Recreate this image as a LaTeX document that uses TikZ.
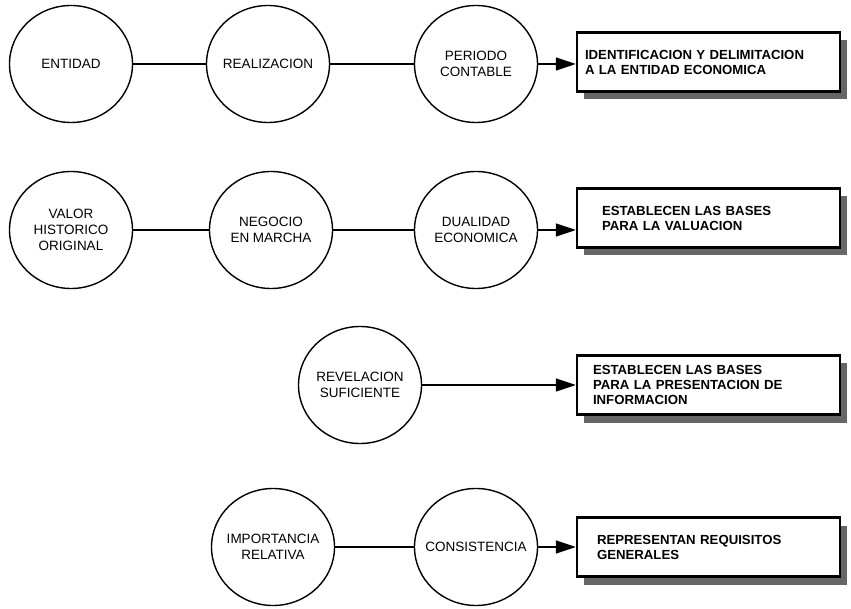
\documentclass[tikz,border=0pt]{standalone}
\usepackage{fontspec}
\setmainfont{Liberation Sans}
\usetikzlibrary{shapes.geometric,arrows.meta,shadows}
\begin{document}
\begin{tikzpicture}[x=1pt,y=-1pt,
  circ/.style={draw,ellipse,line width=1.4pt,minimum width=123pt,minimum height=117pt,
    align=center,inner sep=-15pt,font=\fontsize{13.5}{16}\selectfont},
  box/.style={draw,line width=2.4pt,fill=white,minimum width=263pt,minimum height=59pt,
    align=left,font=\bfseries\fontsize{13.2}{15}\selectfont,
    drop shadow={shadow xshift=7pt,shadow yshift=-8pt,fill=black!60,opacity=1}},
  link/.style={line width=1.4pt},
  arr/.style={line width=1.4pt,-{Triangle[length=20pt,width=13pt]}}
]
\useasboundingbox (0,0) rectangle (851,609);

% row 1
\node[circ] (c11) at (71,64) {ENTIDAD};
\node[circ] (c12) at (268,64) {REALIZACION};
\node[circ] (c13) at (476,64) {PERIODO\\CONTABLE};
\node[box,text width=247pt] (b1) at (708.5,62) {IDENTIFICACION Y DELIMITACION\\A LA ENTIDAD ECONOMICA};
\draw[link] (c11) -- (c12);
\draw[link] (c12) -- (c13);
\draw[arr] (c13) -- (c13 -| b1.west);

% row 2
\node[circ] (c21) at (71,230) {VALOR\\HISTORICO\\ORIGINAL};
\node[circ] (c22) at (271,230) {NEGOCIO\\EN MARCHA};
\node[circ] (c23) at (476,230) {DUALIDAD\\ECONOMICA};
\node[box,text width=213pt] (b2) at (708.5,218) {ESTABLECEN LAS BASES\\PARA LA VALUACION};
\draw[link] (c21) -- (c22);
\draw[link] (c22) -- (c23);
\draw[arr] (c23) -- (c23 -| b2.west);

% row 3
\node[circ] (c31) at (360,385) {REVELACION\\SUFICIENTE};
\node[box,text width=231pt] (b3) at (708.5,385) {ESTABLECEN LAS BASES\\PARA LA PRESENTACION DE\\INFORMACION};
\draw[arr] (c31) -- (c31 -| b3.west);

% row 4
\node[circ] (c41) at (273,547) {IMPORTANCIA\\RELATIVA};
\node[circ] (c42) at (476,547) {CONSISTENCIA};
\node[box,text width=223pt] (b4) at (708.5,547) {REPRESENTAN REQUISITOS\\GENERALES};
\draw[link] (c41) -- (c42);
\draw[arr] (c42) -- (c42 -| b4.west);
\end{tikzpicture}
\end{document}
